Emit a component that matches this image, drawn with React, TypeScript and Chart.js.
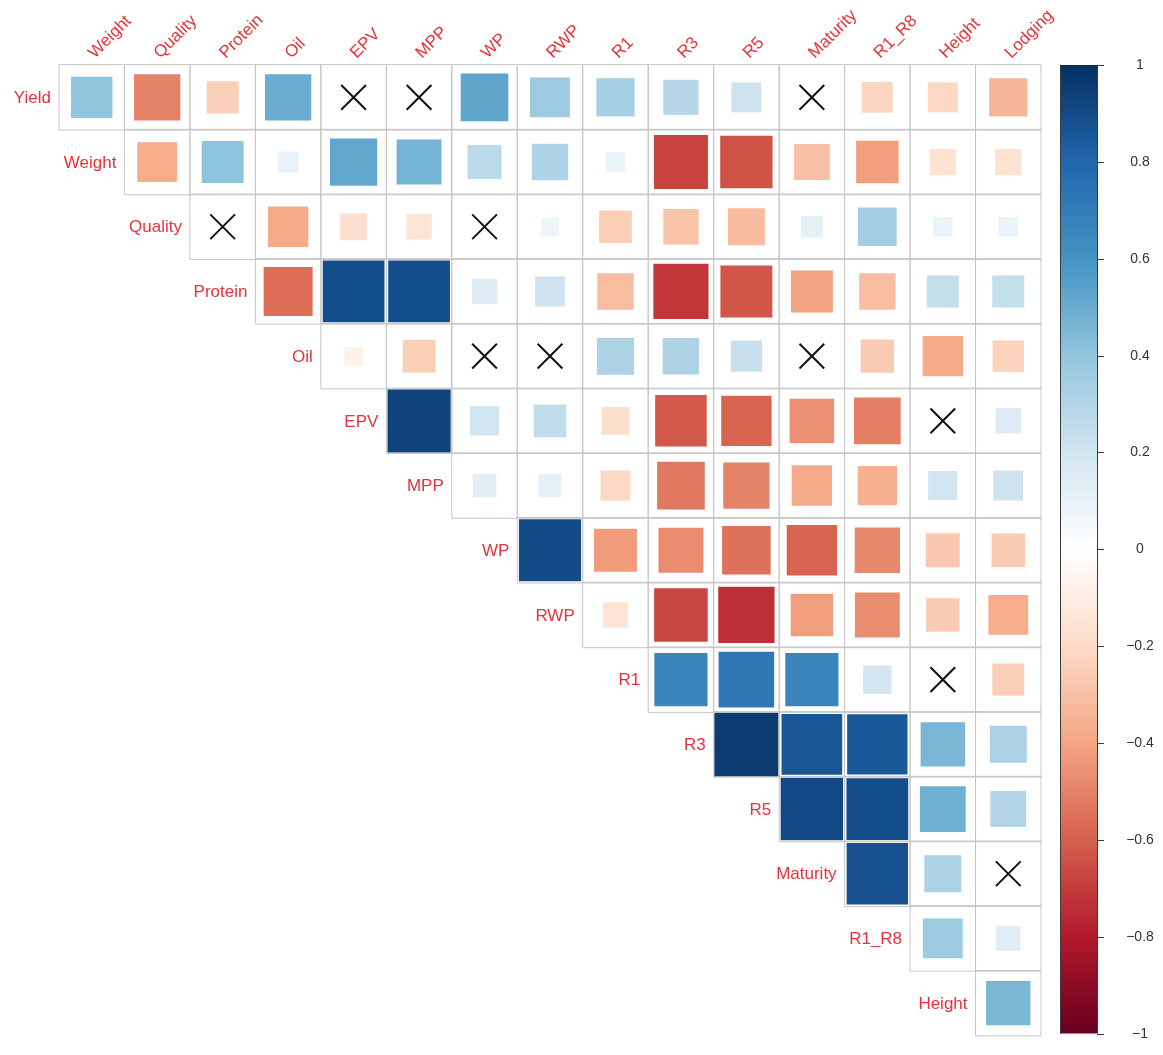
import React, { useEffect, useRef } from 'react';
import { Chart, registerables } from 'chart.js';

Chart.register(...registerables);

// Row variables (top to bottom) and column variables (left to right)
const rowLabels = ['Yield', 'Weight', 'Quality', 'Protein', 'Oil', 'EPV', 'MPP', 'WP', 'RWP', 'R1', 'R3', 'R5', 'Maturity', 'R1_R8', 'Height'];
const colLabels = ['Weight', 'Quality', 'Protein', 'Oil', 'EPV', 'MPP', 'WP', 'RWP', 'R1', 'R3', 'R5', 'Maturity', 'R1_R8', 'Height', 'Lodging'];

// Correlations: each row starts at its own column (upper triangle)
const corrYield = [0.40, -0.50, -0.24, 0.50, 0.04, -0.03, 0.53, 0.37, 0.34, 0.29, 0.21, 0.03, -0.22, -0.21, -0.34];
const corrWeight = [-0.37, 0.41, 0.10, 0.52, 0.47, 0.27, 0.31, 0.09, -0.68, -0.64, -0.30, -0.42, -0.16, -0.16];
const corrQuality = [0.02, -0.38, -0.17, -0.15, -0.03, 0.08, -0.25, -0.29, -0.32, 0.11, 0.35, 0.09, 0.09];
const corrProtein = [-0.56, 0.89, 0.89, 0.15, 0.21, -0.31, -0.71, -0.63, -0.41, -0.31, 0.24, 0.24];
const corrOil = [-0.08, -0.25, 0.03, -0.02, 0.32, 0.31, 0.23, 0.04, -0.26, -0.38, -0.23];
const corrEPV = [0.93, 0.20, 0.25, -0.18, -0.62, -0.59, -0.46, -0.51, 0.03, 0.15];
const corrMPP = [0.13, 0.12, -0.21, -0.53, -0.50, -0.38, -0.36, 0.20, 0.21];
const corrWP = [0.90, -0.43, -0.47, -0.55, -0.59, -0.48, -0.27, -0.26];
const corrRWP = [-0.15, -0.67, -0.74, -0.42, -0.47, -0.26, -0.37];
const corrR1 = [0.66, 0.72, 0.66, 0.19, -0.03, -0.24];
const corrR3 = [0.96, 0.86, 0.85, 0.46, 0.32];
const corrR5 = [0.91, 0.89, 0.49, 0.30];
const corrMaturity = [0.88, 0.32, 0.02];
const corrR1R8 = [0.37, 0.14];
const corrHeight = [0.46];

const corrRows = [corrYield, corrWeight, corrQuality, corrProtein, corrOil, corrEPV, corrMPP, corrWP, corrRWP, corrR1, corrR3, corrR5, corrMaturity, corrR1R8, corrHeight];

// Non-significant cells [rowIndex, colIndex]
const insignificant: [number, number][] = [
  [0, 4], [0, 5], [0, 11], [2, 2], [2, 6], [4, 6], [4, 7], [4, 11], [5, 13], [9, 13], [12, 14],
];

const legendTicks = [1, 0.8, 0.6, 0.4, 0.2, 0, -0.2, -0.4, -0.6, -0.8, -1];

const palette = ['#67001F', '#B2182B', '#D6604D', '#F4A582', '#FDDBC7', '#FFFFFF', '#D1E5F0', '#92C5DE', '#4393C3', '#2166AC', '#053061'];

function hexToRgb(h: string) {
  return [parseInt(h.slice(1, 3), 16), parseInt(h.slice(3, 5), 16), parseInt(h.slice(5, 7), 16)];
}

function colorFor(v: number) {
  const t = Math.max(0, Math.min(1, (v + 1) / 2)) * (palette.length - 1);
  const i = Math.min(palette.length - 2, Math.floor(t));
  const f = t - i;
  const a = hexToRgb(palette[i]);
  const b = hexToRgb(palette[i + 1]);
  const c = a.map((x, k) => Math.round(x + (b[k] - x) * f));
  return `rgb(${c[0]},${c[1]},${c[2]})`;
}

const FONT = '"Liberation Sans", Arial, Helvetica, sans-serif';
const LABEL_RED = '#E5333A';

function cellSize(chart: any) {
  const xs = chart.scales && chart.scales.x;
  if (!xs) return 0;
  return Math.abs(xs.getPixelForValue(1) - xs.getPixelForValue(0));
}

const decorPlugin = {
  id: 'decor',
  afterDraw(chart: any) {
    const ctx = chart.ctx;
    const xs = chart.scales.x;
    const ys = chart.scales.y;
    const area = chart.chartArea;
    ctx.save();
    // Row labels
    ctx.font = `17px ${FONT}`;
    ctx.fillStyle = LABEL_RED;
    ctx.textAlign = 'right';
    ctx.textBaseline = 'middle';
    rowLabels.forEach((lab, i) => {
      const x = xs.getPixelForValue(i - 0.5) - 8;
      const y = ys.getPixelForValue(i);
      ctx.fillText(lab, x, y + 1);
    });
    // Column labels rotated 45 deg
    ctx.textAlign = 'left';
    ctx.textBaseline = 'alphabetic';
    colLabels.forEach((lab, j) => {
      const x = xs.getPixelForValue(j) + 3;
      const y = area.top - 6;
      ctx.save();
      ctx.translate(x, y);
      ctx.rotate(-Math.PI / 4);
      ctx.fillText(lab, 0, 0);
      ctx.restore();
    });
    // Color legend
    const lx = 1060;
    const lw = 37;
    const top = area.top;
    const bottom = area.bottom - 2;
    const grad = ctx.createLinearGradient(0, top, 0, bottom);
    const stops = palette.length;
    for (let k = 0; k < stops; k++) {
      grad.addColorStop(k / (stops - 1), palette[stops - 1 - k]);
    }
    ctx.fillStyle = grad;
    ctx.fillRect(lx, top, lw, bottom - top);
    ctx.strokeStyle = '#3A3A3A';
    ctx.lineWidth = 1;
    ctx.beginPath();
    ctx.moveTo(lx + 0.5, top);
    ctx.lineTo(lx + 0.5, bottom);
    ctx.moveTo(lx + lw + 0.5, top);
    ctx.lineTo(lx + lw + 0.5, bottom);
    ctx.stroke();
    ctx.font = `14px ${FONT}`;
    ctx.fillStyle = '#333333';
    ctx.textAlign = 'center';
    ctx.textBaseline = 'middle';
    legendTicks.forEach((t) => {
      const y = Math.round(top + ((1 - t) / 2) * (bottom - top)) + 0.5;
      ctx.beginPath();
      ctx.moveTo(lx + lw, y);
      ctx.lineTo(lx + lw + 7, y);
      ctx.stroke();
      const txt = t === 0 ? '0' : (t < 0 ? '\u2212' + Math.abs(t) : String(t));
      ctx.fillText(txt, 1140, y);
    });
    ctx.restore();
  },
};

export default function App() {
  const ref = useRef<HTMLCanvasElement | null>(null);

  useEffect(() => {
    if (!ref.current) return;
    const cells = corrRows.flatMap((row, i) => row.map((v, k) => ({ x: i + k, y: i, v })));
    const crosses = insignificant.map(([r, c]) => ({ x: c, y: r }));

    const chart = new Chart(ref.current, {
      type: 'scatter',
      data: {
        datasets: [
          {
            label: 'insignificant',
            data: crosses,
            order: 0,
            clip: false,
            pointStyle: 'crossRot',
            pointRadius: 17.5,
            pointBorderColor: '#111111',
            pointBorderWidth: 2,
            pointBackgroundColor: 'rgba(0,0,0,0)',
          } as any,
          {
            label: 'grid',
            data: cells,
            order: 1,
            clip: false,
            pointStyle: 'rect',
            pointRadius: (c: any) => cellSize(c.chart) / Math.SQRT2,
            pointBackgroundColor: 'rgba(0,0,0,0)',
            pointBorderColor: '#C6C6C6',
            pointBorderWidth: 1,
          } as any,
          {
            label: 'corr',
            data: cells,
            order: 2,
            clip: false,
            pointStyle: 'rect',
            pointRadius: (c: any) => {
              const raw = c.raw as any;
              if (!raw) return 0;
              return (Math.sqrt(Math.abs(raw.v)) * cellSize(c.chart)) / Math.SQRT2;
            },
            pointBackgroundColor: (c: any) => {
              const raw = c.raw as any;
              return raw ? colorFor(raw.v) : '#fff';
            },
            pointBorderWidth: 0,
          } as any,
        ],
      },
      options: {
        responsive: false,
        animation: false,
        events: [],
        layout: { padding: { left: 59, top: 65, right: 122, bottom: 8 } },
        scales: {
          x: { type: 'linear', min: -0.5, max: 14.5, display: false },
          y: { type: 'linear', min: -0.5, max: 14.5, reverse: true, display: false },
        },
        plugins: {
          legend: { display: false },
          tooltip: { enabled: false },
        },
      },
      plugins: [decorPlugin],
    });
    return () => chart.destroy();
  }, []);

  return (
    <div style={{ position: 'absolute', left: 0, top: 0, width: 1163, height: 1055, background: '#ffffff' }}>
      <canvas ref={ref} width={1163} height={1055} style={{ display: 'block' }} />
    </div>
  );
}
